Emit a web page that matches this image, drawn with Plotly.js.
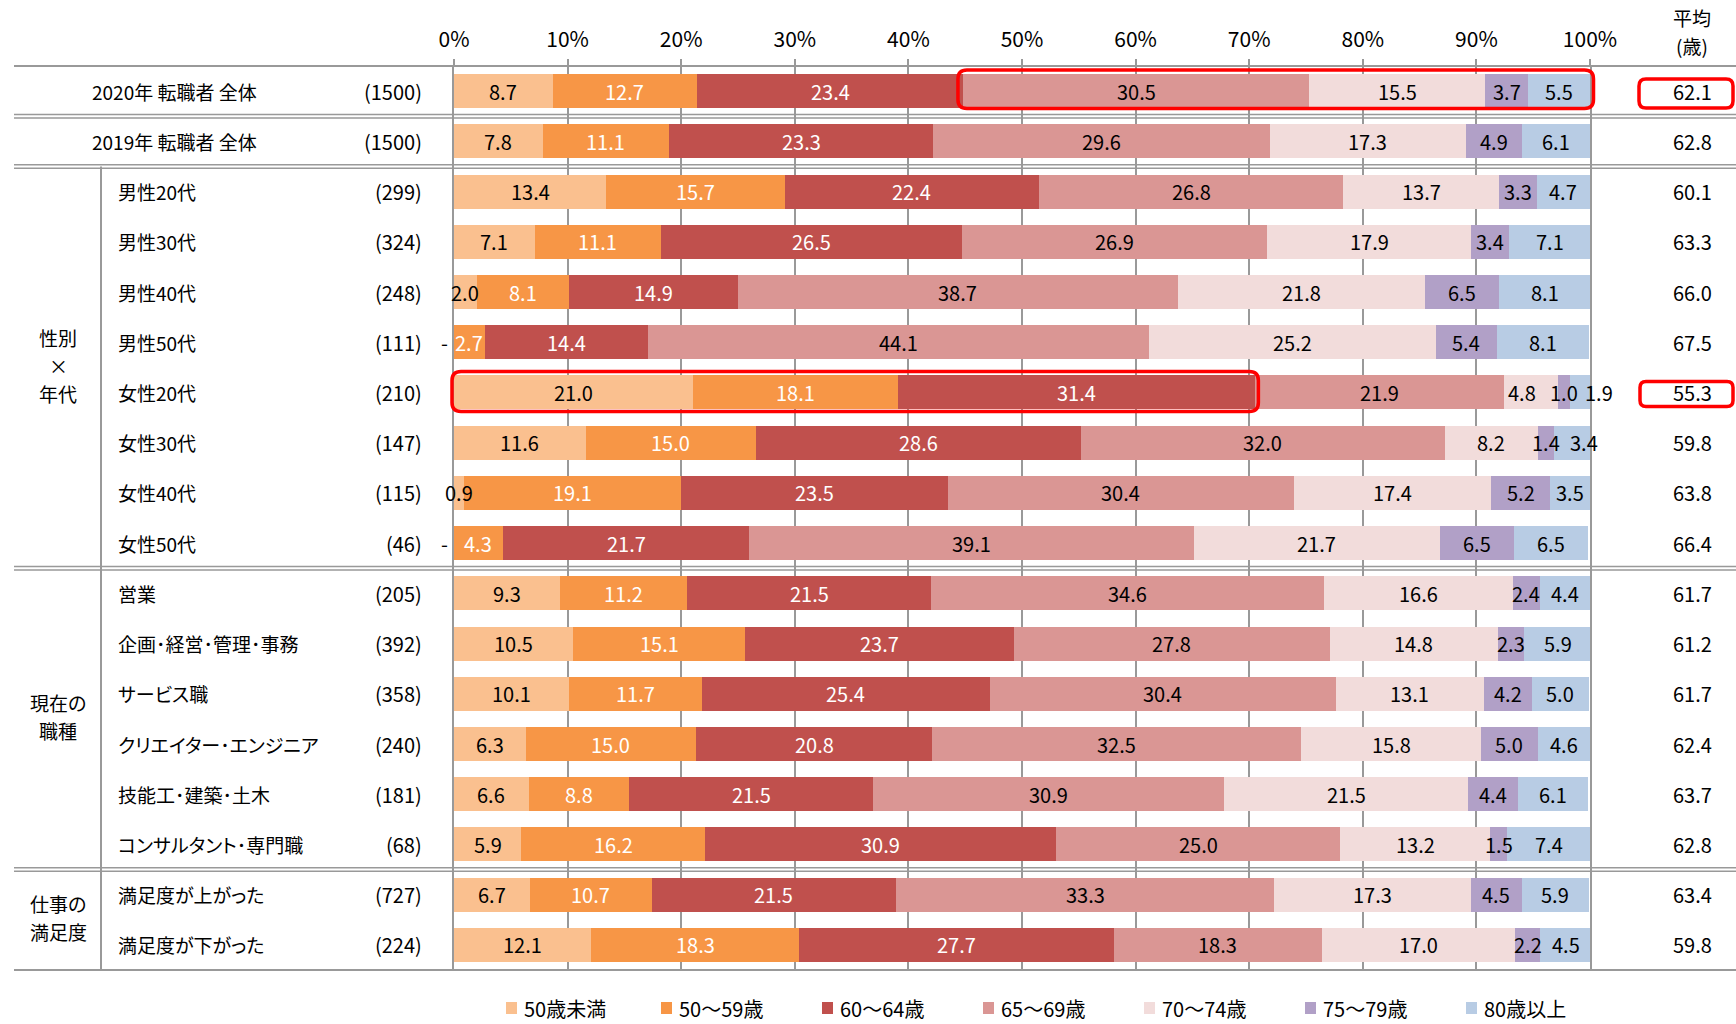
<!DOCTYPE html>
<html>
<head>
<meta charset="utf-8">
<script src="https://cdn.plot.ly/plotly-3.0.1.min.js"></script>
<style>
  html, body { margin: 0; padding: 0; background: #ffffff; }
  #chart { width: 1736px; height: 1024px; }
  /* proportional kana, closer to the narrow UI typeface of the table labels */
  text { font-feature-settings: "palt" 1; }
</style>
</head>
<body>
<div id="chart"></div>
<script>
// ---- data -----------------------------------------------------------------
const rowLabels = [
  '2020年 転職者 全体', '2019年 転職者 全体',
  '男性20代', '男性30代', '男性40代', '男性50代',
  '女性20代', '女性30代', '女性40代', '女性50代',
  '営業', '企画･経営･管理･事務', 'サービス職', 'クリエイター･エンジニア',
  '技能工･建築･土木', 'コンサルタント･専門職',
  '満足度が上がった', '満足度が下がった'
];
const sampleSizes = [
  '(1500)', '(1500)',
  '(299)', '(324)', '(248)', '(111)',
  '(210)', '(147)', '(115)', '(46)',
  '(205)', '(392)', '(358)', '(240)', '(181)', '(68)',
  '(727)', '(224)'
];
const averageAge = [
  62.1, 62.8,
  60.1, 63.3, 66.0, 67.5,
  55.3, 59.8, 63.8, 66.4,
  61.7, 61.2, 61.7, 62.4, 63.7, 62.8,
  63.4, 59.8
];

const ageBands = ['50歳未満', '50～59歳', '60～64歳', '65～69歳', '70～74歳', '75～79歳', '80歳以上'];

const under50  = [8.7, 7.8, 13.4, 7.1, 2.0, 0.0, 21.0, 11.6, 0.9, 0.0, 9.3, 10.5, 10.1, 6.3, 6.6, 5.9, 6.7, 12.1];
const age50s   = [12.7, 11.1, 15.7, 11.1, 8.1, 2.7, 18.1, 15.0, 19.1, 4.3, 11.2, 15.1, 11.7, 15.0, 8.8, 16.2, 10.7, 18.3];
const age60to64 = [23.4, 23.3, 22.4, 26.5, 14.9, 14.4, 31.4, 28.6, 23.5, 21.7, 21.5, 23.7, 25.4, 20.8, 21.5, 30.9, 21.5, 27.7];
const age65to69 = [30.5, 29.6, 26.8, 26.9, 38.7, 44.1, 21.9, 32.0, 30.4, 39.1, 34.6, 27.8, 30.4, 32.5, 30.9, 25.0, 33.3, 18.3];
const age70to74 = [15.5, 17.3, 13.7, 17.9, 21.8, 25.2, 4.8, 8.2, 17.4, 21.7, 16.6, 14.8, 13.1, 15.8, 21.5, 13.2, 17.3, 17.0];
const age75to79 = [3.7, 4.9, 3.3, 3.4, 6.5, 5.4, 1.0, 1.4, 5.2, 6.5, 2.4, 2.3, 4.2, 5.0, 4.4, 1.5, 4.5, 2.2];
const age80plus = [5.5, 6.1, 4.7, 7.1, 8.1, 8.1, 1.9, 3.4, 3.5, 6.5, 4.4, 5.9, 5.0, 4.6, 6.1, 7.4, 5.9, 4.5];

const tickValues = [0, 10, 20, 30, 40, 50, 60, 70, 80, 90, 100];
const tickLabels = ['0%', '10%', '20%', '30%', '40%', '50%', '60%', '70%', '80%', '90%', '100%'];

const averageHeader = ['平均', '(歳)'];

const groups = [
  { lines: ['性別', '×', '年代'], first: 2, last: 9 },
  { lines: ['現在の', '職種'], first: 10, last: 15 },
  { lines: ['仕事の', '満足度'], first: 16, last: 17 }
];

// ---- styling ----------------------------------------------------------------
const series = [under50, age50s, age60to64, age65to69, age70to74, age75to79, age80plus];
const barColors = ['#FAC08F', '#F79646', '#C0504D', '#DA9694', '#F2DCDB', '#B1A0C7', '#B8CCE4'];
const labelColors = ['#000000', '#ffffff', '#ffffff', '#000000', '#000000', '#000000', '#000000'];
const FONT = '"Noto Sans CJK JP", "Noto Sans", sans-serif';
const LINE = '#999999';
const HIGHLIGHT = '#FF0000';

// horizontal pixel nudges for crowded labels, keyed "row-band"
const labelNudge = { '6-4': -9, '6-6': 19, '7-6': 11 };

const W = 1736, H = 1024;
const M = { l: 454, r: 146, t: 66, b: 54 };
const plotW = W - M.l - M.r;
const plotH = H - M.t - M.b;
const nRows = rowLabels.length;
const rowIdx = rowLabels.map((_, i) => i);

// pixel -> paper helpers
const pxX = px => (px - M.l) / plotW;
const pxY = py => 1 - (py - M.t) / plotH;
const rowY = v => 1 - (v + 0.5) / nRows;
const rowPx = plotH / nRows;

// ---- traces -------------------------------------------------------------------
const traces = series.map((vals, k) => ({
  type: 'bar',
  orientation: 'h',
  name: ageBands[k],
  x: vals,
  y: rowIdx,
  marker: { color: barColors[k], line: { width: 0 } },
  hoverinfo: 'skip',
  showlegend: false
}));

// ---- annotations ------------------------------------------------------------
const annotations = [];

// segment value labels, centered on each stacked segment
rowIdx.forEach(i => {
  let cum = 0;
  series.forEach((vals, k) => {
    const v = vals[i];
    const a = {
      xref: 'x', yref: 'y', x: cum + v / 2, y: i,
      text: v === 0 ? '-' : v.toFixed(1),
      showarrow: false, xanchor: 'center', yanchor: 'middle',
      font: { family: FONT, size: 20, color: v === 0 ? '#000000' : labelColors[k] }
    };
    if (v === 0) { a.x = 0; a.xshift = -10; }
    const nudge = labelNudge[i + '-' + k];
    if (nudge) a.xshift = nudge;
    annotations.push(a);
    cum += v;
  });
});

// row labels, sample sizes, averages
rowIdx.forEach(i => {
  annotations.push({
    xref: 'paper', yref: 'y', x: pxX(i < 2 ? 90 : 116), y: i,
    text: rowLabels[i], showarrow: false, xanchor: 'left', yanchor: 'middle',
    font: { family: FONT, size: 19, color: '#000000' }
  });
  annotations.push({
    xref: 'paper', yref: 'y', x: pxX(424), y: i,
    text: sampleSizes[i], showarrow: false, xanchor: 'right', yanchor: 'middle',
    font: { family: FONT, size: 20, color: '#000000' }
  });
  annotations.push({
    xref: 'paper', yref: 'y', x: pxX(1692), y: i,
    text: averageAge[i].toFixed(1), showarrow: false, xanchor: 'center', yanchor: 'middle',
    font: { family: FONT, size: 20, color: '#000000' }
  });
});

// average column header
averageHeader.forEach((t, j) => {
  annotations.push({
    xref: 'paper', yref: 'paper', x: pxX(1692), y: pxY(17 + j * 28),
    text: t, showarrow: false, xanchor: 'center', yanchor: 'middle',
    font: { family: FONT, size: 19, color: '#000000' }
  });
});

// group labels in the left column
groups.forEach(g => {
  const mid = (g.first + g.last) / 2;
  const n = g.lines.length;
  g.lines.forEach((t, j) => {
    annotations.push({
      xref: 'paper', yref: 'paper', x: pxX(58), y: rowY(mid),
      yshift: 2 - ((j - (n - 1) / 2) * 28),
      text: t, showarrow: false, xanchor: 'center', yanchor: 'middle',
      font: { family: FONT, size: 19, color: '#000000' }
    });
  });
});

// ---- shapes: table rules and highlight boxes ----------------------------------
const shapes = [];
const hLine = (py, w) => ({
  type: 'line', xref: 'paper', yref: 'paper',
  x0: pxX(14), x1: pxX(W), y0: py, y1: py,
  line: { color: LINE, width: w }
});
shapes.push(hLine(rowY(-0.5), 2));
shapes.push(hLine(rowY(nRows - 0.5), 2));
[0.5, 1.5, 9.5, 15.5].forEach(b => {
  const c = rowY(b);
  const d = 1.75 / plotH;
  shapes.push(hLine(c + d, 1.5));
  shapes.push(hLine(c - d, 1.5));
});
shapes.push({
  type: 'line', xref: 'paper', yref: 'paper',
  x0: pxX(101), x1: pxX(101), y0: rowY(1.5), y1: rowY(nRows - 0.5),
  line: { color: LINE, width: 2 }
});

// rounded rectangle in paper coordinates (corners given in pixels)
function roundedBox(x0px, x1px, y0px, y1px, r) {
  const X = pxX, Y = pxY;
  const p = [
    `M${X(x0px + r)},${Y(y0px)}`,
    `L${X(x1px - r)},${Y(y0px)}`,
    `Q${X(x1px)},${Y(y0px)} ${X(x1px)},${Y(y0px + r)}`,
    `L${X(x1px)},${Y(y1px - r)}`,
    `Q${X(x1px)},${Y(y1px)} ${X(x1px - r)},${Y(y1px)}`,
    `L${X(x0px + r)},${Y(y1px)}`,
    `Q${X(x0px)},${Y(y1px)} ${X(x0px)},${Y(y1px - r)}`,
    `L${X(x0px)},${Y(y0px + r)}`,
    `Q${X(x0px)},${Y(y0px)} ${X(x0px + r)},${Y(y0px)}`,
    'Z'
  ].join(' ');
  return {
    type: 'path', xref: 'paper', yref: 'paper', path: p,
    line: { color: HIGHLIGHT, width: 3.5 }, fillcolor: 'rgba(0,0,0,0)'
  };
}
const valPx = v => M.l + v / 100 * plotW;
const centerPx = i => M.t + (i + 0.5) * rowPx;

// 2020: from the 65～69 segment to the end of the bar
const startOld = under50[0] + age50s[0] + age60to64[0];
shapes.push(roundedBox(valPx(startOld) - 5, valPx(100) + 3.5, centerPx(0) - 21, centerPx(0) + 17.5, 9));
shapes.push(roundedBox(1639, 1733, centerPx(0) - 12, centerPx(0) + 17, 7));
// 女性20代: segments below 65
const youngEnd = under50[6] + age50s[6] + age60to64[6];
shapes.push(roundedBox(valPx(0) - 2, valPx(youngEnd) + 3.5, centerPx(6) - 21, centerPx(6) + 19, 9));
shapes.push(roundedBox(1640, 1733, centerPx(6) - 11, centerPx(6) + 14, 6));

// ---- legend row under the table: colour swatch + band name ----------------------
const legendMid = 1008;
ageBands.forEach((name, k) => {
  const x0 = k === 0 ? 506 : 500 + 161 * k;
  shapes.push({
    type: 'rect', xref: 'paper', yref: 'paper',
    x0: pxX(x0), x1: pxX(x0 + 11), y0: pxY(legendMid - 6), y1: pxY(legendMid + 6),
    fillcolor: barColors[k], line: { width: 0 }
  });
  annotations.push({
    xref: 'paper', yref: 'paper', x: pxX(x0 + 16), y: pxY(legendMid),
    text: name, showarrow: false, xanchor: 'left', yanchor: 'middle',
    font: { family: FONT, size: 20, color: '#000000' }
  });
});

// ---- layout ---------------------------------------------------------------------
const layout = {
  width: W, height: H, autosize: false,
  margin: M,
  paper_bgcolor: '#ffffff', plot_bgcolor: '#ffffff',
  barmode: 'stack', bargap: 0.323,
  hovermode: false,
  showlegend: false,
  font: { family: FONT, color: '#000000' },
  xaxis: {
    side: 'top', range: [0, 100], fixedrange: true,
    tickmode: 'array', tickvals: tickValues, ticktext: tickLabels,
    ticks: 'outside', ticklen: 6, tickwidth: 2, tickcolor: LINE,
    ticklabelstandoff: 4,
    tickfont: { family: FONT, size: 21, color: '#000000' },
    showgrid: true, gridcolor: LINE, gridwidth: 2,
    zeroline: false, showline: false
  },
  yaxis: {
    range: [nRows - 0.5, -0.5], fixedrange: true,
    showticklabels: false, ticks: '', showgrid: false, zeroline: false,
    showline: true, mirror: true, linecolor: LINE, linewidth: 2
  },
  annotations: annotations,
  shapes: shapes
};

Plotly.newPlot('chart', traces, layout, { displayModeBar: false, staticPlot: true });
</script>
</body>
</html>
